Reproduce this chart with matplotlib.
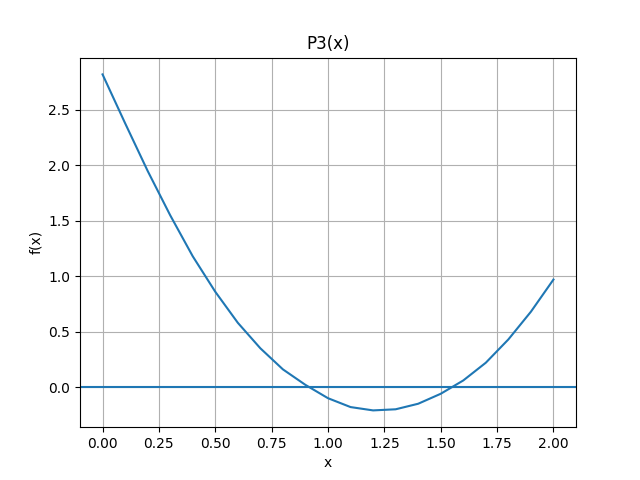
import matplotlib
matplotlib.use("Agg")
import matplotlib.pyplot as plt

x = [0.0,0.1,0.2,0.3,0.4,0.5,0.6,0.7,0.8,0.9,1.0,1.1,1.2,1.3,1.4,1.5,1.6,1.7,1.8,1.9,2.0]
y = [2.82,2.38,1.95,1.55,1.18,0.86,0.58,0.35,0.16,0.02,-0.10,-0.18,-0.21,-0.20,-0.15,-0.06,0.06,0.22,0.43,0.68,0.97]

fig, ax = plt.subplots(figsize=(6.4,4.8), dpi=100)
ax.plot(x, y)
ax.axhline(0)
ax.set_title("P3(x)")
ax.set_xlabel("x")
ax.set_ylabel("f(x)")
ax.grid(True)
fig.savefig("out.png")
